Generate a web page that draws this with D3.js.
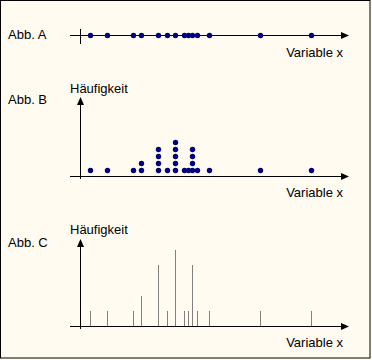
<!DOCTYPE html>
<html><head><meta charset="utf-8">
<script src="https://cdn.jsdelivr.net/npm/d3@7"></script>
<style>html,body{margin:0;padding:0;background:#FFFBF0;}svg{display:block;}</style>
</head><body>
<script>
// Data
const xValues = [0, 4, 10, 12, 16, 18, 20, 22, 23, 24, 25, 28, 40, 52];
const counts  = [1, 1, 1, 2, 4, 1, 5, 1, 1, 4, 1, 1, 1, 1];
const panelLabels = ["Abb. A", "Abb. B", "Abb. C"];
const xLabel = "Variable x";
const yLabel = "Häufigkeit";

const W = 372, H = 360;
const svg = d3.select("body").append("svg").attr("width", W).attr("height", H);
svg.append("rect").attr("x",0).attr("y",0).attr("width",W).attr("height",H).attr("fill","#FFFBF0");
svg.append("rect").attr("x",0.5).attr("y",0.5).attr("width",369.5).attr("height",357.5)
  .attr("fill","none").attr("stroke","#000").attr("stroke-width",1);

const x = d3.scaleLinear().domain([0, 52]).range([90.3, 311.3]);
const px = v => Math.round(x(v)) + 0.5;
const font = "'Liberation Sans', Arial, sans-serif";

function text(t, xx, yy, anchor) {
  svg.append("text").attr("x", xx).attr("y", yy).attr("text-anchor", anchor || "start")
    .attr("font-family", font).attr("font-size", 13).attr("fill", "#000").text(t);
}
function hArrow(y) {
  svg.append("line").attr("x1",70).attr("x2",344).attr("y1",y+0.5).attr("y2",y+0.5).attr("stroke","#000");
  svg.append("path").attr("d", `M349,${y+0.5} L341,${y-3} L341,${y+4} Z`).attr("fill","#000");
}
function vArrow(top, bottom) {
  svg.append("line").attr("x1",80.5).attr("x2",80.5).attr("y1",top+5).attr("y2",bottom).attr("stroke","#000");
  svg.append("path").attr("d", `M80.5,${top} L77,${top+8} L84,${top+8} Z`).attr("fill","#000");
}

// Panel A
const yA = 35;
text(panelLabels[0], 8, 39);
hArrow(yA);
svg.append("line").attr("x1",80.5).attr("x2",80.5).attr("y1",29).attr("y2",44).attr("stroke","#000");
svg.append("g").selectAll("circle").data(xValues).join("circle")
  .attr("cx", d => px(d)).attr("cy", yA + 0.5).attr("r", 2.7).attr("fill", "#000080");
text(xLabel, 343, 57, "end");

// Panel B
const yB = 176;
const yDot = d3.scaleLinear().domain([1, 5]).range([170.5, 142.5]);
text(panelLabels[1], 8, 104);
text(yLabel, 70, 93);
hArrow(yB);
vArrow(97, 179);
const dots = [];
xValues.forEach((v, i) => { for (let k = 1; k <= counts[i]; k++) dots.push({v, k}); });
svg.append("g").selectAll("circle").data(dots).join("circle")
  .attr("cx", d => px(d.v)).attr("cy", d => yDot(d.k)).attr("r", 2.7).attr("fill", "#000080");
text(xLabel, 343, 197, "end");

// Panel C
const yC = 326;
const yLine = d3.scaleLinear().domain([0, 5]).range([326, 250]);
text(panelLabels[2], 8, 247);
text(yLabel, 70, 234);
hArrow(yC);
vArrow(239, 329);
svg.append("g").selectAll("line").data(xValues.map((v, i) => ({v, c: counts[i]}))).join("line")
  .attr("x1", d => px(d.v)).attr("x2", d => px(d.v))
  .attr("y1", yC).attr("y2", d => Math.round(yLine(d.c)))
  .attr("stroke", "#808080").attr("stroke-width", 1);
text(xLabel, 343, 347, "end");
</script>
</body></html>
